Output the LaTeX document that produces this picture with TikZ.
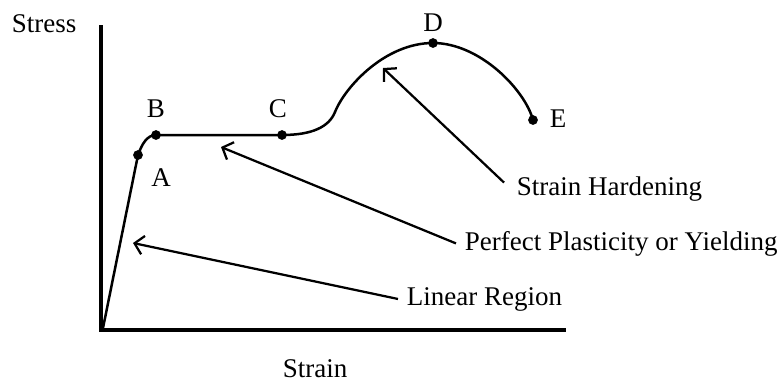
\documentclass[tikz,border=0pt]{standalone}
\usepackage{fontspec}
\setmainfont{Liberation Serif}
\usetikzlibrary{arrows.meta,calc,positioning}
\tikzset{
  axisline/.style={line width=1.6pt},
  curveline/.style={line width=1pt},
  pointdot/.style={circle,fill=black,inner sep=0pt,minimum size=3.9pt},
  callout/.style={line width=0.9pt,-{Straight Barb[length=3.5pt,width=7.5pt]}},
}
\begin{document}
\begin{tikzpicture}[x=0.4pt,y=-0.4pt,font=\fontsize{10.8}{13}\selectfont]
  \useasboundingbox (0,0) rectangle (781,381);
  % axes
  \coordinate (top) at (101,25);
  \coordinate (O) at (101,330);
  \coordinate (right) at (566,330);
  \draw[axisline] (top) -- (O) -- (right);
  \node[anchor=base west] (stress) at (3,32) {Stress};
  \node[anchor=base] (strain) at (315,377) {Strain};

  % points on the curve
  \coordinate (start) at (103,328);
  \node[pointdot] (A) at (138,155) {};
  \node[pointdot] (B) at (156,135) {};
  \node[pointdot] (C) at (282,135) {};
  \node[pointdot] (D) at (433,43) {};
  \node[pointdot] (E) at (533,120) {};
  \node[anchor=base] (labA) at (161,186) {A};
  \node[anchor=base] (labB) at (156,117) {B};
  \node[anchor=base] (labC) at (278,117) {C};
  \node[anchor=base] (labD) at (433,31) {D};
  \node[anchor=base] (labE) at (558,127) {E};

  % stress-strain curve
  \draw[curveline] (start) -- (A.center) .. controls (142,144) and (147,135) .. (B.center)
    -- (C.center) .. controls (312,135) and (329,127) .. (335,112)
    .. controls (345,87) and (385,43) .. (D.center)
    .. controls (480,43) and (525,90) .. (E.center);

  % regions
  \coordinate (tipD) at (383,68);
  \coordinate (tipBC) at (221,147);
  \coordinate (tipOA) at (133,243);
  \node[anchor=base west] (hard) at (508,195) {Strain Hardening};
  \node[anchor=base west] (plast) at (456,250) {Perfect Plasticity or Yielding};
  \node[anchor=base west] (lin) at (398,305) {Linear Region};
  \draw[callout] ($(hard.west)+(-4,-6)$) -- (tipD);
  \draw[callout] (plast.west) -- (tipBC);
  \draw[callout] (lin.west) -- (tipOA);
\end{tikzpicture}
\end{document}
